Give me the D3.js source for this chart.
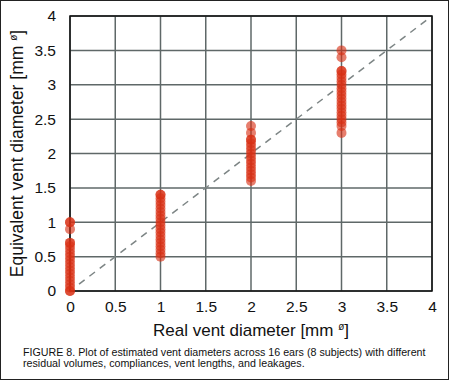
<!DOCTYPE html>
<html>
<head>
<meta charset="utf-8">
<script src="https://cdn.jsdelivr.net/npm/d3@7"></script>
<style>
  body { margin: 0; background: #fff; }
  svg { display: block; font-family: "Liberation Sans", Arial, sans-serif; }
</style>
</head>
<body>
<svg id="chart" width="450" height="381"></svg>
<script>
// real vent diameter columns and the estimated values
const realDiameters = [0, 1, 2, 3];
const est0 = [0, 0, 0.05, 0.1, 0.15, 0.2, 0.25, 0.3, 0.35, 0.4, 0.45, 0.5, 0.55, 0.6, 0.65, 0.7, 0.7, 0.9, 1.0, 1.0];
const est1 = [0.5, 0.55, 0.6, 0.65, 0.7, 0.75, 0.8, 0.85, 0.9, 0.95, 1.0, 1.05, 1.1, 1.15, 1.2, 1.25, 1.3, 1.35, 1.4, 1.4];
const est2 = [1.6, 1.65, 1.7, 1.75, 1.8, 1.85, 1.9, 1.95, 2.0, 2.05, 2.1, 2.15, 2.2, 2.2, 2.3, 2.4];
const est3 = [2.3, 2.4, 2.45, 2.5, 2.55, 2.6, 2.65, 2.7, 2.75, 2.8, 2.85, 2.9, 2.95, 3.0, 3.05, 3.1, 3.15, 3.2, 3.2, 3.4, 3.5];
const tickValues = [0, 0.5, 1, 1.5, 2, 2.5, 3, 3.5, 4];
const diagonal = [0.1, 3.95];
const captionLines = [
  "FIGURE 8. Plot of estimated vent diameters across 16 ears (8 subjects) with different",
  "residual volumes, compliances, vent lengths, and leakages."
];

const svg = d3.select('#chart');
const margin = {top: 16, left: 70, right: 18, bottom: 90};
const width = 450, height = 381;
const innerWidth = width - margin.left - margin.right;
const innerHeight = height - margin.top - margin.bottom;

// outer border of the figure
svg.append('rect')
  .attr('x', 0.5).attr('y', 0.5)
  .attr('width', 448).attr('height', 379)
  .attr('fill', 'none').attr('stroke', '#222').attr('stroke-width', 1);

const x = d3.scaleLinear().domain([0, 4]).range([0, innerWidth]);
const y = d3.scaleLinear().domain([0, 4]).range([innerHeight, 0]);

const g = svg.append('g').attr('transform', `translate(${margin.left},${margin.top})`);

// grid
g.selectAll('.vgrid').data(tickValues).enter().append('line')
  .attr('x1', d => x(d)).attr('x2', d => x(d))
  .attr('y1', 0).attr('y2', innerHeight)
  .attr('stroke', '#5f6868').attr('stroke-width', 1.5);
g.selectAll('.hgrid').data(tickValues).enter().append('line')
  .attr('y1', d => y(d)).attr('y2', d => y(d))
  .attr('x1', 0).attr('x2', innerWidth)
  .attr('stroke', '#5f6868').attr('stroke-width', 1.5);

// frame
g.append('rect')
  .attr('width', innerWidth).attr('height', innerHeight)
  .attr('fill', 'none').attr('stroke', '#111').attr('stroke-width', 1.5);

// axes
const xAxis = d3.axisBottom(x).tickValues(tickValues).tickSize(0).tickPadding(10)
  .tickFormat(d3.format('~g'));
const yAxis = d3.axisLeft(y).tickValues(tickValues).tickSize(0).tickPadding(14)
  .tickFormat(d3.format('~g'));

const xg = g.append('g').attr('transform', `translate(0,${innerHeight})`).call(xAxis);
const yg = g.append('g').call(yAxis);
[xg, yg].forEach(a => {
  a.select('.domain').remove();
  a.selectAll('text').attr('font-size', 15.5).attr('fill', '#111')
    .attr('font-family', '"Liberation Sans", Arial, sans-serif');
});

// diagonal reference line
g.append('line')
  .attr('x1', x(diagonal[0])).attr('y1', y(diagonal[0]))
  .attr('x2', x(diagonal[1])).attr('y2', y(diagonal[1]))
  .attr('stroke', '#7d8585').attr('stroke-width', 1.5)
  .attr('stroke-dasharray', '7,6');

// points
const columns = [est0, est1, est2, est3];
const points = [];
columns.forEach((vals, i) => vals.forEach(v => points.push([realDiameters[i], v])));

g.selectAll('circle').data(points).enter().append('circle')
  .attr('cx', d => x(d[0]))
  .attr('cy', d => y(d[1]))
  .attr('r', 5)
  .attr('fill', '#d92e14')
  .attr('fill-opacity', 0.62);

// axis titles
const xt = svg.append('text')
  .attr('x', margin.left + innerWidth / 2).attr('y', 336)
  .attr('text-anchor', 'middle').attr('font-size', 17).attr('fill', '#111');
xt.append('tspan').text('Real vent diameter [mm ');
xt.append('tspan').attr('dy', -6).attr('font-size', 10).text('ø');
xt.append('tspan').attr('dy', 6).text(']');

const yt = svg.append('text')
  .attr('transform', `translate(23,${margin.top + innerHeight / 2}) rotate(-90)`)
  .attr('text-anchor', 'middle').attr('font-size', 17.5).attr('fill', '#111');
yt.append('tspan').text('Equivalent vent diameter [mm ');
yt.append('tspan').attr('dy', -6).attr('font-size', 10).text('ø');
yt.append('tspan').attr('dy', 6).text(']');

// caption
svg.selectAll('.caption').data(captionLines).enter().append('text')
  .attr('class', 'caption')
  .attr('x', 23).attr('y', (d, i) => 356 + i * 11)
  .attr('font-size', 10.7).attr('fill', '#111')
  .text(d => d);
</script>
</body>
</html>
